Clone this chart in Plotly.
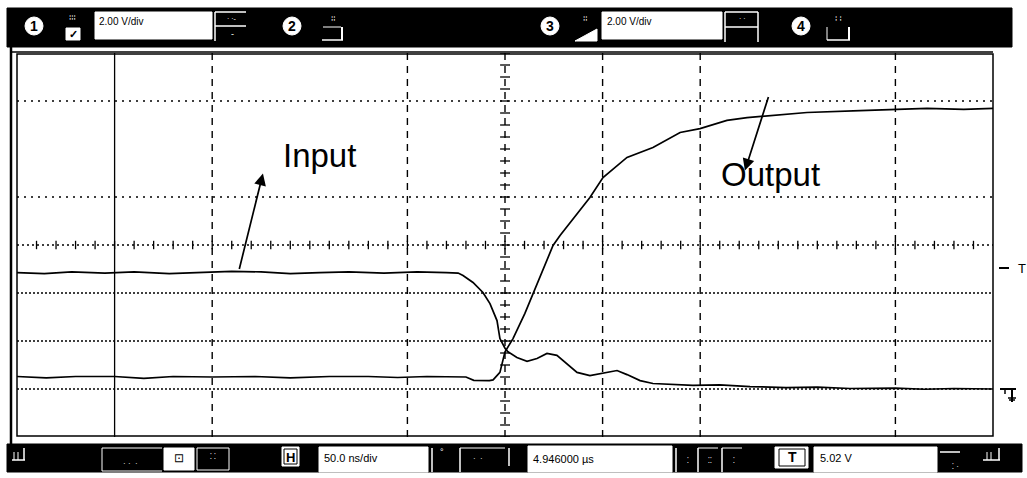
import plotly.graph_objects as go
import numpy as np

# Scope capture: 50 ns/div time base, 2 V/div on both channels, ground at 0 V
input_t = [-250, -236, -222, -205, -190, -172, -158, -140, -125, -110, -95, -80, -62, -45, -30, -24,
           -21.5, -16.4, -11.3, -7.7, -4.1, -2.6, 0, 1.5, 6.1, 11.3, 16.4, 21.5, 26.6, 31.8, 36.9,
           43.5, 50.2, 57.4, 62.5, 69.2, 75.8, 96.3, 110, 125.5, 144, 160, 176.7, 200, 215, 230, 250]
input_v = [4.85, 4.81, 4.88, 4.83, 4.88, 4.81, 4.85, 4.90, 4.88, 4.81, 4.85, 4.88, 4.83, 4.88, 4.85, 4.83,
           4.73, 4.44, 4.02, 3.56, 2.85, 2.10, 1.70, 1.55, 1.31, 1.15, 1.27, 1.48, 1.40, 1.06, 0.69,
           0.56, 0.65, 0.77, 0.60, 0.35, 0.23, 0.15, 0.17, 0.10, 0.06, 0.08, 0.02, 0.04, -0.01, 0.02, 0.00]

output_t = [-250, -235, -220, -200, -185, -170, -150, -128, -110, -90, -70, -55, -40, -28, -20, -16,
            -8, -6.1, -2.6, 0, 4.1, 10.2, 16.4, 21.5, 24.6, 28.2, 34.8, 43.5, 50.2, 62.5, 75.8, 89.7,
            99.9, 113.7, 124.0, 139.3, 154.7, 181.9, 198.8, 216.2, 235, 250]
output_v = [0.52, 0.46, 0.52, 0.52, 0.44, 0.52, 0.50, 0.52, 0.46, 0.52, 0.52, 0.48, 0.52, 0.50, 0.50, 0.36,
            0.35, 0.38, 0.69, 1.55, 2.10, 3.15, 4.40, 5.35, 5.98, 6.40, 7.10, 7.98, 8.81, 9.65, 10.06, 10.69,
            10.85, 11.19, 11.31, 11.40, 11.52, 11.60, 11.65, 11.69, 11.65, 11.69]

time_range = [-250, 250]
volt_range = [-2, 14]
dashed_t = [-150, -50, 50, 100, 200]
cursor_t = [-200]
sparse_v = [12, 8]
dense_v = [4, 2, 0]
center_t, center_v = 0, 6

ch_scale = "2.00 V/div"
time_scale = "50.0 ns/div"
delay_text = "4.946000 µs"
trig_text = "5.02 V"

W, H = 1027, 478
L, R, T, B = 17, 34, 53, 41
PW, PH = W - L - R, H - T - B


def px(x):
    return (x - L) / PW


def py(y):
    return (H - B - y) / PH


shapes = []
ann = []


def rect(x0, y0, x1, y1, fill=None, line="black", lw=1):
    shapes.append(dict(type="rect", xref="paper", yref="paper",
                       x0=px(x0), x1=px(x1), y0=py(y1), y1=py(y0),
                       fillcolor=fill if fill else "rgba(0,0,0,0)",
                       line=dict(color=line, width=lw), layer="above"))


def seg(x0, y0, x1, y1, color="black", lw=1, dash=None):
    d = dict(color=color, width=lw)
    if dash:
        d["dash"] = dash
    shapes.append(dict(type="line", xref="paper", yref="paper",
                       x0=px(x0), x1=px(x1), y0=py(y0), y1=py(y1), line=d, layer="above"))


def label(x, y, text, size=11, color="black", xanchor="left", bold=False, family="Liberation Sans, Arial"):
    if bold:
        text = "<b>" + text + "</b>"
    ann.append(dict(xref="paper", yref="paper", x=px(x), y=py(y), text=text, showarrow=False,
                    xanchor=xanchor, yanchor="middle", font=dict(size=size, color=color, family=family)))


def circ_num(cx, cy, n):
    r = 9
    shapes.append(dict(type="circle", xref="paper", yref="paper",
                       x0=px(cx - r), x1=px(cx + r), y0=py(cy + r), y1=py(cy - r),
                       fillcolor="white", line=dict(color="white", width=1), layer="above"))
    label(cx, cy + 0.5, str(n), size=14, xanchor="center", bold=True)


# --- grid on the data axes ---
for t in dashed_t:
    shapes.append(dict(type="line", xref="x", yref="paper", x0=t, x1=t, y0=0, y1=1,
                       line=dict(color="black", width=1.4, dash="7px,6px"), layer="below"))
for t in cursor_t:
    shapes.append(dict(type="line", xref="x", yref="paper", x0=t, x1=t, y0=0, y1=1,
                       line=dict(color="black", width=1.3), layer="below"))
shapes.append(dict(type="line", xref="x", yref="paper", x0=center_t, x1=center_t, y0=0, y1=1,
                   line=dict(color="black", width=1.4, dash="7px,6px"), layer="below"))
for v in sparse_v:
    shapes.append(dict(type="line", xref="paper", yref="y", x0=0, x1=1, y0=v, y1=v,
                       line=dict(color="black", width=1.4, dash="2px,5px"), layer="below"))
for v in dense_v:
    shapes.append(dict(type="line", xref="paper", yref="y", x0=0, x1=1, y0=v, y1=v,
                       line=dict(color="black", width=1.4, dash="2px,2px"), layer="below"))
shapes.append(dict(type="line", xref="paper", yref="y", x0=0, x1=1, y0=center_v, y1=center_v,
                   line=dict(color="black", width=1.4, dash="2px,3px"), layer="below"))

# --- frame ---
rect(17, 54, 993, 436, lw=1.5)
seg(12, 52, 993, 52, lw=1.5)
seg(11, 47, 11, 444, lw=2.5)

# --- top control bar ---
rect(7, 8, 1012, 47, fill="black", line="black")
circ_num(34, 26, 1)
rect(66, 28, 80, 40, fill="white", line="white")
label(73, 34, "✓", size=11, xanchor="center", bold=True)
label(72, 17, "⁞⁞⁞", size=8, color="white", xanchor="center")
rect(95, 12, 212, 39, fill="white", line="white")
label(97, 21, ch_scale, size=10)
seg(215, 12, 215, 41, color="white", lw=1.5)
seg(215, 26, 246, 26, color="white", lw=1.5)
seg(215, 12, 246, 12, color="white", lw=1.5)
label(232, 18, "· ·‐", size=7, color="white", xanchor="center")
label(232, 34, "‐", size=9, color="white", xanchor="center")
circ_num(292, 26, 2)
seg(322, 40, 343, 40, color="white", lw=1.5)
seg(342, 27, 342, 40, color="white", lw=2)
seg(323, 27, 341, 27, color="white", lw=1)
label(333, 18, "⁞⁞", size=8, color="white", xanchor="center")
circ_num(550, 26, 3)
shapes.append(dict(type="path", xref="paper", yref="paper", layer="above",
                   path="M {} {} L {} {} L {} {} Z".format(px(575), py(41), px(597), py(41), px(597), py(29)),
                   fillcolor="white", line=dict(color="white", width=1)))
label(585, 18, "⁞⁞", size=8, color="white", xanchor="center")
rect(602, 12, 722, 39, fill="white", line="white")
label(605, 21, ch_scale, size=10)
seg(725, 12, 725, 42, color="white", lw=1.5)
seg(725, 12, 758, 12, color="white", lw=1.5)
seg(725, 27, 758, 27, color="white", lw=1.5)
seg(758, 12, 758, 42, color="white", lw=1.5)
label(742, 19, "· ·", size=7, color="white", xanchor="center")
circ_num(801, 26, 4)
seg(827, 40, 850, 40, color="white", lw=1.5)
seg(849, 27, 849, 40, color="white", lw=2)
seg(827, 27, 827, 40, color="white", lw=1)
label(838, 18, "⁞ ⁞", size=8, color="white", xanchor="center")

# --- bottom control bar ---
rect(7, 444, 1022, 472, fill="black", line="black")
seg(12, 460, 25, 460, color="white", lw=1.5)
seg(24, 448, 24, 460, color="white", lw=1.5)
seg(14, 452, 14, 460, color="white", lw=1)
seg(18, 452, 18, 460, color="white", lw=1)
seg(102, 448, 102, 471, color="white", lw=1)
seg(102, 448, 162, 448, color="white", lw=1)
seg(102, 471, 162, 471, color="white", lw=1)
label(130, 463, "· ·  ·", size=8, color="white", xanchor="center")
rect(164, 448, 194, 470, fill="white", line="white")
label(179, 458, "⊡", size=12, xanchor="center")
rect(197, 448, 229, 470, line="white")
label(213, 456, "⁚ ⁚", size=8, color="white", xanchor="center")
rect(282, 447, 299, 466, fill="white", line="white", lw=1)
rect(284, 449, 297, 464, line="black", lw=1)
label(290.5, 457, "H", size=13, xanchor="center", bold=True)
rect(319, 447, 428, 472, fill="white", line="white")
label(322, 458, time_scale, size=11)
seg(432, 448, 432, 472, color="white", lw=1.5)
label(442, 452, "°", size=9, color="white", xanchor="center")
seg(460, 448, 460, 472, color="white", lw=1.5)
seg(460, 448, 505, 448, color="white", lw=1)
seg(509, 448, 509, 466, color="white", lw=1.5)
label(478, 458, "·  ·", size=8, color="white", xanchor="center")
rect(528, 446, 672, 472, fill="white", line="white")
label(531, 459, delay_text, size=11)
seg(676, 448, 676, 472, color="white", lw=1.5)
seg(698, 448, 698, 472, color="white", lw=1.5)
seg(698, 448, 718, 448, color="white", lw=1)
seg(722, 448, 722, 472, color="white", lw=1.5)
seg(722, 448, 742, 448, color="white", lw=1)
label(688, 460, "⁚", size=8, color="white", xanchor="center")
label(710, 460, "⁚⁚", size=8, color="white", xanchor="center")
label(734, 460, "⁚", size=8, color="white", xanchor="center")
rect(775, 447, 808, 468, fill="white", line="white")
rect(779, 449, 805, 466, line="black", lw=1)
label(792, 457, "T", size=14, xanchor="center", bold=True)
rect(814, 447, 937, 472, fill="white", line="white")
label(818, 458, trig_text, size=11)
seg(940, 452, 960, 452, color="white", lw=1.5)
label(955, 466, "⁚ ·", size=8, color="white", xanchor="center")
seg(983, 460, 1000, 460, color="white", lw=1.5)
seg(999, 448, 999, 460, color="white", lw=1.5)
seg(987, 452, 987, 460, color="white", lw=1)
seg(991, 452, 991, 460, color="white", lw=1)

# --- right-edge markers: trigger level and ground ---
seg(999, 268, 1009, 268, lw=2)
label(1016, 268, "T", size=13, xanchor="left")
seg(1000, 389, 1016, 389, lw=2)
seg(1005, 389, 1005, 394, lw=1.5)
seg(1012, 389, 1012, 402, lw=2)
seg(1008, 398, 1016, 398, lw=1.5)
seg(1009, 400, 1015, 400, lw=1.5)

fig = go.Figure()
fig.add_trace(go.Scatter(x=input_t, y=input_v, mode="lines", name="Input",
                         line=dict(color="black", width=1.7)))
fig.add_trace(go.Scatter(x=output_t, y=output_v, mode="lines", name="Output",
                         line=dict(color="black", width=1.7)))

# minor ticks along the centre axes
fig.add_trace(go.Scatter(x=[center_t] * 33, y=np.arange(volt_range[0], volt_range[1] + 0.01, 0.5),
                         mode="markers", hoverinfo="skip",
                         marker=dict(symbol="line-ew", size=7, line=dict(color="black", width=1.3))))
fig.add_trace(go.Scatter(x=np.arange(time_range[0] + 10, time_range[1], 10), y=[center_v] * 49,
                         mode="markers", hoverinfo="skip",
                         marker=dict(symbol="line-ns", size=6, line=dict(color="black", width=1.3))))

# channel labels with pointer arrows
ann.append(dict(x=-95, y=9.75, xref="x", yref="y", text="Input", showarrow=False,
                font=dict(size=33, color="black", family="Liberation Sans, Arial")))
ann.append(dict(x=136, y=8.95, xref="x", yref="y", text="Output", showarrow=False,
                font=dict(size=33, color="black", family="Liberation Sans, Arial")))
ann.append(dict(x=-124.0, y=8.98, ax=-136.3, ay=4.94, xref="x", yref="y", axref="x", ayref="y",
                text="", showarrow=True, arrowhead=2, arrowsize=1.4, arrowwidth=1.7, arrowcolor="black"))
ann.append(dict(x=122.9, y=9.10, ax=135.2, ay=12.23, xref="x", yref="y", axref="x", ayref="y",
                text="", showarrow=True, arrowhead=2, arrowsize=1.4, arrowwidth=1.7, arrowcolor="black"))

fig.update_layout(
    width=W, height=H,
    margin=dict(l=L, r=R, t=T, b=B),
    paper_bgcolor="white", plot_bgcolor="white",
    showlegend=False,
    xaxis=dict(range=time_range, showgrid=False, zeroline=False, showticklabels=False, ticks="",
               fixedrange=True),
    yaxis=dict(range=volt_range, showgrid=False, zeroline=False, showticklabels=False, ticks="",
               fixedrange=True),
    shapes=shapes,
    annotations=ann,
)

fig.write_html("out.html")
